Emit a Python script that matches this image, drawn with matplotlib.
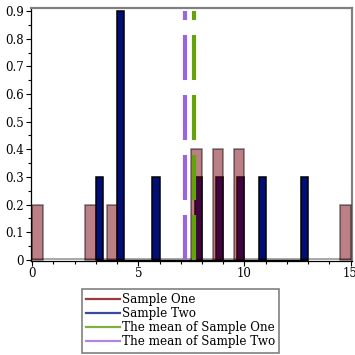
import matplotlib
matplotlib.use("Agg")
import matplotlib.pyplot as plt
from matplotlib.lines import Line2D

# ---- data ----
s1_left = [0.0, 2.5, 3.5, 7.5, 8.5, 9.5, 14.5]
s1_width = 0.5
s1_height = [0.2, 0.2, 0.2, 0.4, 0.4, 0.4, 0.2]
s1_range = (0.0, 15.0)

s2_left = [3.0, 4.0, 5.6667, 7.6667, 8.6667, 9.6667, 10.6667, 12.6667]
s2_width = 1.0 / 3.0
s2_height = [0.3, 0.9, 0.3, 0.3, 0.3, 0.3, 0.3, 0.3]
s2_range = (3.0, 13.0)

mean_one = 7.6
mean_two = 7.2

labels = ["Sample One", "Sample Two", "The mean of Sample One", "The mean of Sample Two"]
xticks_major = [0, 5, 10, 15]
yticks_major = [0, 0.1, 0.2, 0.3, 0.4, 0.5, 0.6, 0.7, 0.8, 0.9]

# ---- style ----
c1 = "#78000E"
c2 = "#000E78"
c_mean1 = "#66a30a"
c_mean2 = "#9a66e0"
leg_cols = ["#9a3a3f", "#3a4a9c", "#80b040", "#b088e4"]

plt.rcParams["font.family"] = ["DejaVu Serif"]

fig = plt.figure(figsize=(3.55, 3.55), dpi=100)
ax = fig.add_axes([31 / 355, 94 / 355, 321 / 355, 253 / 355])

# Sample Two (drawn first)
ax.hlines(0, s2_range[0], s2_range[1], color="black", lw=1.0, zorder=2)
ax.bar(s2_left, s2_height, width=s2_width, align="edge", color=c2,
       edgecolor="black", linewidth=1.1, zorder=3)
# Sample One translucent on top
ax.hlines(0.002, s1_range[0], s1_range[1], color="black", alpha=0.4, lw=1.2, zorder=3)
ax.bar(s1_left, s1_height, width=s1_width, align="edge", color=c1, alpha=0.5,
       edgecolor="black", linewidth=1.1, zorder=4)

# mean lines
for m, c in [(mean_one, c_mean1), (mean_two, c_mean2)]:
    ln, = ax.plot([m, m], [0, 0.9], color=c, lw=3.0, zorder=5,
                  solid_capstyle="butt", dash_capstyle="butt")
    ln.set_dashes((10.8, 3.6))

ax.set_xlim(-0.06, 15.07)
ax.set_ylim(-0.004, 0.911)

ax.set_xticks(xticks_major)
ax.set_xticklabels([str(v) for v in xticks_major])
ax.set_xticks(range(0, 16), minor=True)
ax.set_yticks(yticks_major)
ax.set_yticklabels(["0"] + ["%.1f" % v for v in yticks_major[1:]])
ax.set_yticks([i * 0.05 for i in range(19)], minor=True)
ax.tick_params(axis="both", which="major", labelsize=8.5, length=3.5, width=0.8,
               pad=1.5, direction="out")
ax.tick_params(axis="x", which="major", pad=1.0)
ax.tick_params(axis="both", which="minor", length=2.2, width=0.8, direction="out")

for side in ["left", "bottom"]:
    ax.spines[side].set_color("black")
    ax.spines[side].set_linewidth(0.9)
for side in ["top", "right"]:
    ax.spines[side].set_color("#808080")
    ax.spines[side].set_linewidth(1.6)

handles = [Line2D([], [], color=c, lw=1.6) for c in leg_cols]
leg = fig.legend(handles, labels, loc="lower left",
                 bbox_to_anchor=(82 / 355, 2.5 / 355), bbox_transform=fig.transFigure,
                 borderaxespad=0, fontsize=8.6, frameon=True, fancybox=False,
                 edgecolor="#808080", framealpha=1, borderpad=0.35,
                 handlelength=2.85, handletextpad=0.15, labelspacing=0.1)
leg.get_frame().set_linewidth(1.2)

fig.savefig("out.png", dpi=100)
